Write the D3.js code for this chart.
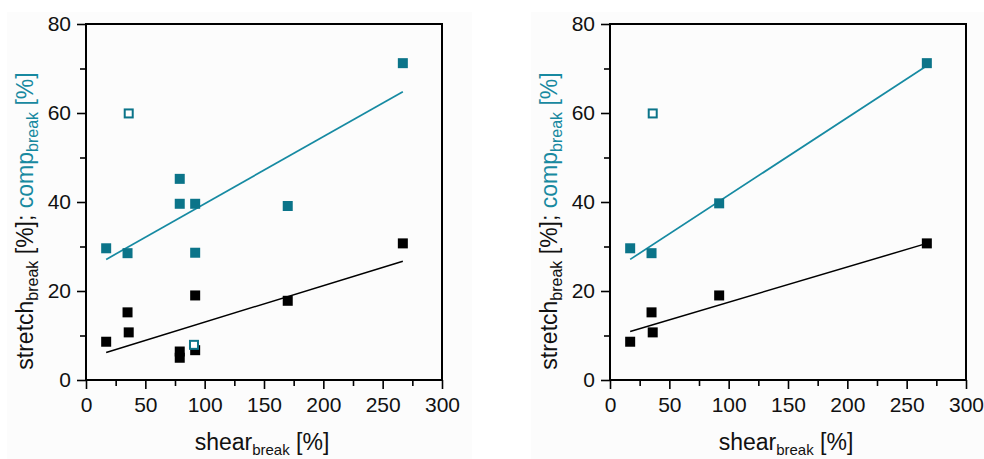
<!DOCTYPE html>
<html>
<head>
<meta charset="utf-8">
<script src="https://cdn.jsdelivr.net/npm/d3@7"></script>
<style>
  html, body { margin: 0; padding: 0; background: #ffffff; }
  svg { display: block; font-family: "Liberation Sans", Arial, sans-serif; }
</style>
</head>
<body>
<svg id="chart" width="984" height="459"></svg>
<script>
// Shared axes
const xTicks = [0, 50, 100, 150, 200, 250, 300];
const xMinorTicks = [25, 75, 125, 175, 225, 275];
const yTicks = [0, 20, 40, 60, 80];
const yMinorTicks = [10, 30, 50, 70];

// Left panel: all samples
const compLeftX = [17, 35, 79, 79, 92, 92, 170, 267];
const compLeftY = [29.6, 28.5, 45.2, 39.6, 39.6, 28.6, 39.1, 71.2];
const compOpenLeftX = [36, 91];
const compOpenLeftY = [59.9, 7.9];
const stretchLeftX = [17, 35, 36, 79, 79, 92, 92, 170, 267];
const stretchLeftY = [8.6, 15.2, 10.7, 6.4, 5.0, 6.7, 19.0, 17.8, 30.7];
const fitLeftX = [17, 267];
const fitCompLeftY = [27.1, 64.8];
const fitStretchLeftY = [6.2, 26.7];

// Right panel: reduced sample set
const compRightX = [17, 35, 92, 267];
const compRightY = [29.6, 28.5, 39.7, 71.2];
const compOpenRightX = [36];
const compOpenRightY = [59.9];
const stretchRightX = [17, 35, 36, 92, 267];
const stretchRightY = [8.6, 15.2, 10.7, 19.0, 30.7];
const fitRightX = [17, 267];
const fitCompRightY = [27.1, 70.6];
const fitStretchRightY = [10.9, 30.7];

const TEAL = "#0b7489";
const TEAL_LINE = "#168aa2";
const TEAL_TEXT = "#1889a0";

const zip = (xs, ys) => xs.map((x, i) => ({ x, y: ys[i] }));

const panels = [
  {
    left: 86, bg: [7, 472],
    comp: zip(compLeftX, compLeftY),
    compOpen: zip(compOpenLeftX, compOpenLeftY),
    stretch: zip(stretchLeftX, stretchLeftY),
    fitComp: zip(fitLeftX, fitCompLeftY),
    fitStretch: zip(fitLeftX, fitStretchLeftY)
  },
  {
    left: 610, bg: [531, 984],
    comp: zip(compRightX, compRightY),
    compOpen: zip(compOpenRightX, compOpenRightY),
    stretch: zip(stretchRightX, stretchRightY),
    fitComp: zip(fitRightX, fitCompRightY),
    fitStretch: zip(fitRightX, fitStretchRightY)
  }
];

const svg = d3.select("#chart");
const plotW = 356, plotTop = 24, plotH = 356;
const S = 10; // marker size

panels.forEach(p => {
  svg.append("rect")
    .attr("x", p.bg[0]).attr("y", 12)
    .attr("width", p.bg[1] - p.bg[0]).attr("height", 459 - 12)
    .attr("fill", "#fcfcfc");

  const g = svg.append("g").attr("transform", `translate(${p.left},${plotTop})`);
  const x = d3.scaleLinear().domain([0, 300]).range([0, plotW]);
  const y = d3.scaleLinear().domain([0, 80]).range([plotH, 0]);

  // minor ticks
  g.append("g").attr("transform", `translate(0,${plotH})`)
    .call(d3.axisBottom(x).tickValues(xMinorTicks).tickSize(6).tickFormat(""))
    .call(a => a.select(".domain").remove())
    .selectAll("line").attr("stroke", "#000").attr("stroke-width", 1.6);
  g.append("g")
    .call(d3.axisLeft(y).tickValues(yMinorTicks).tickSize(6).tickFormat(""))
    .call(a => a.select(".domain").remove())
    .selectAll("line").attr("stroke", "#000").attr("stroke-width", 1.6);

  // major ticks + labels
  const xa = g.append("g").attr("transform", `translate(0,${plotH})`)
    .call(d3.axisBottom(x).tickValues(xTicks).tickSize(9).tickPadding(8).tickFormat(d3.format("d")));
  xa.select(".domain").remove();
  xa.selectAll("line").attr("stroke", "#000").attr("stroke-width", 1.6);
  xa.selectAll("text").attr("font-size", 21).attr("fill", "#111")
    .attr("font-family", "Liberation Sans, Arial, sans-serif");

  const ya = g.append("g")
    .call(d3.axisLeft(y).tickValues(yTicks).tickSize(9).tickPadding(6).tickFormat(d3.format("d")));
  ya.select(".domain").remove();
  ya.selectAll("line").attr("stroke", "#000").attr("stroke-width", 1.6);
  ya.selectAll("text").attr("font-size", 21).attr("fill", "#111")
    .attr("font-family", "Liberation Sans, Arial, sans-serif");

  // frame
  g.append("rect").attr("x", 0).attr("y", 0).attr("width", plotW).attr("height", plotH)
    .attr("fill", "none").attr("stroke", "#000").attr("stroke-width", 2);

  // fit lines
  const line = d3.line().x(d => x(d.x)).y(d => y(d.y));
  g.append("path").datum(p.fitStretch).attr("d", line)
    .attr("fill", "none").attr("stroke", "#000").attr("stroke-width", 1.5);
  g.append("path").datum(p.fitComp).attr("d", line)
    .attr("fill", "none").attr("stroke", TEAL_LINE).attr("stroke-width", 1.7);

  // markers
  g.selectAll(".stretch").data(p.stretch).enter().append("rect")
    .attr("x", d => x(d.x) - S / 2).attr("y", d => y(d.y) - S / 2)
    .attr("width", S).attr("height", S).attr("fill", "#000");
  g.selectAll(".comp").data(p.comp).enter().append("rect")
    .attr("x", d => x(d.x) - S / 2).attr("y", d => y(d.y) - S / 2)
    .attr("width", S).attr("height", S).attr("fill", TEAL);
  g.selectAll(".compOpen").data(p.compOpen).enter().append("rect")
    .attr("x", d => x(d.x) - S / 2 + 1).attr("y", d => y(d.y) - S / 2 + 1)
    .attr("width", S - 2).attr("height", S - 2)
    .attr("fill", "#fff").attr("stroke", TEAL).attr("stroke-width", 2);

  // x-axis title
  const xt = svg.append("text")
    .attr("x", p.left + plotW / 2 - 2).attr("y", 450)
    .attr("text-anchor", "middle").attr("font-size", 23).attr("fill", "#111");
  xt.append("tspan").text("shear");
  xt.append("tspan").attr("font-size", 15).attr("dy", 5).text("break");
  xt.append("tspan").attr("dy", -5).text(" [%]");

  // y-axis title
  const yt = svg.append("text")
    .attr("transform", `translate(${p.left - 53},221) rotate(-90)`)
    .attr("text-anchor", "middle").attr("font-size", 23).attr("fill", "#111");
  yt.append("tspan").text("stretch");
  yt.append("tspan").attr("font-size", 16).attr("dy", 5).text("break");
  yt.append("tspan").attr("dy", -5).text(" [%]; ");
  yt.append("tspan").attr("fill", TEAL_TEXT).text("comp");
  yt.append("tspan").attr("fill", TEAL_TEXT).attr("font-size", 16).attr("dy", 5).text("break");
  yt.append("tspan").attr("fill", TEAL_TEXT).attr("dy", -5).text(" [%]");
});
</script>
</body>
</html>
